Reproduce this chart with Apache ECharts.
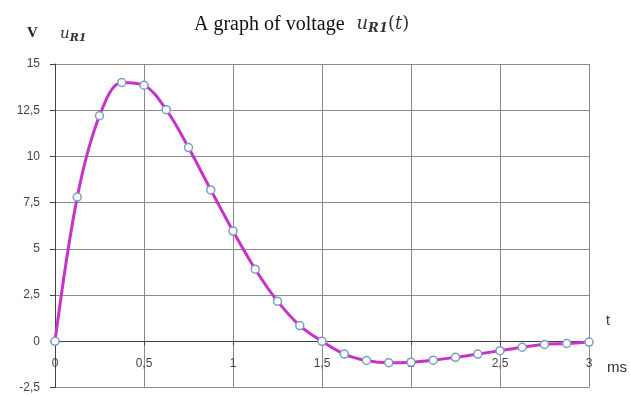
<!DOCTYPE html>
<html>
<head>
<meta charset="utf-8">
<script src="https://cdn.jsdelivr.net/npm/echarts@6/dist/echarts.min.js"></script>
<style>html,body{margin:0;padding:0;background:#fff}#c{width:630px;height:396px}</style>
</head>
<body>
<div id="c"></div>
<script>
var times = [0,0.125,0.25,0.375,0.5,0.625,0.75,0.875,1,1.125,1.25,1.375,1.5,1.625,1.75,1.875,2,2.125,2.25,2.375,2.5,2.625,2.75,2.875,3];
var voltage = [0,7.8,12.2,14.0,13.85,12.53,10.48,8.19,5.96,3.9,2.17,0.85,0,-0.69,-1.04,-1.16,-1.13,-1.02,-0.87,-0.69,-0.51,-0.32,-0.17,-0.12,-0.04];
var xTicks = {min:0, max:3, step:0.5};
var yTicks = {min:-2.5, max:15, step:2.5};

function comma(v){ return String(Math.round(v*100)/100).replace('.', ','); }

var gridTop = 64, gridBottom = 8.5, H = 396;
var pxPerUnit = (H - gridTop - gridBottom) / (yTicks.max - yTicks.min);
var zeroOffset = -(0 - yTicks.min) * pxPerUnit;

var chart = echarts.init(document.getElementById('c'));
chart.setOption({
  animation:false,
  backgroundColor:'#ffffff',
  title:{
    text:'{a|A graph of voltage}{g|}{u|u}{s|R1}{p|(}{u|t}{p|)}',
    left:189, top:9,
    textStyle:{
      fontWeight:'normal',
      rich:{
        a:{fontFamily:'Liberation Serif', fontSize:20, fontWeight:'normal', color:'#111'},
        g:{width:12},
        u:{fontFamily:'DejaVu Serif', fontStyle:'italic', fontSize:18, fontWeight:'normal', color:'#333'},
        p:{fontFamily:'DejaVu Serif', fontSize:18, fontWeight:'normal', color:'#333'},
        s:{fontFamily:'DejaVu Serif', fontStyle:'italic', fontWeight:'bold', fontSize:13, color:'#333', padding:[8,0,0,0]}
      }
    }
  },
  graphic:[
    {type:'text', left:27, top:26, style:{text:'V', font:'bold 15px "Liberation Serif"', fill:'#222'}},
    {type:'text', left:60, top:27, style:{rich:{
        u:{fontFamily:'DejaVu Serif', fontStyle:'italic', fontSize:15, fill:'#333', color:'#333'},
        s:{fontFamily:'DejaVu Serif', fontStyle:'italic', fontWeight:'bold', fontSize:11, fill:'#333', color:'#333', padding:[7,0,0,0]}
      }, text:'{u|u}{s|R1}'}},
    {type:'text', left:606, top:314, style:{text:'t', font:'14px "Liberation Sans"', fill:'#333'}},
    {type:'text', left:607, top:360, style:{text:'ms', font:'15px "Liberation Sans"', fill:'#333'}}
  ],
  grid:{left:55, right:41, top:gridTop, bottom:gridBottom, containLabel:false, outerBoundsMode:'none'},
  xAxis:{
    type:'value', min:xTicks.min, max:xTicks.max, interval:xTicks.step,
    position:'bottom', offset:zeroOffset,
    axisLine:{onZero:false, lineStyle:{color:'#404040', width:1}},
    axisTick:{show:true, inside:false, length:4, lineStyle:{color:'#404040'}},
    axisLabel:{margin:16, fontFamily:'Liberation Sans', fontSize:12, color:'#444', formatter:comma},
    splitLine:{show:true, lineStyle:{color:'#8a8a8a', width:1}}
  },
  yAxis:{
    type:'value', min:yTicks.min, max:yTicks.max, interval:yTicks.step,
    axisLine:{show:true, onZero:false, lineStyle:{color:'#404040', width:1}},
    axisTick:{show:true, inside:false, length:5, lineStyle:{color:'#404040'}},
    axisLabel:{margin:15, fontFamily:'Liberation Sans', fontSize:12, color:'#444', formatter:function(v){ return v===0?'0':comma(v); }},
    splitLine:{show:true, lineStyle:{color:'#8a8a8a', width:1}}
  },
  series:[{
    type:'line',
    data:times.map(function(t,i){return [t, voltage[i]];}),
    smooth:0.35,
    lineStyle:{color:'#C832C8', width:3},
    symbol:'circle', symbolSize:8,
    itemStyle:{color:'#ffffff', borderColor:'#7a9cc8', borderWidth:1.5},
    z:3
  }]
});
</script>
</body>
</html>
